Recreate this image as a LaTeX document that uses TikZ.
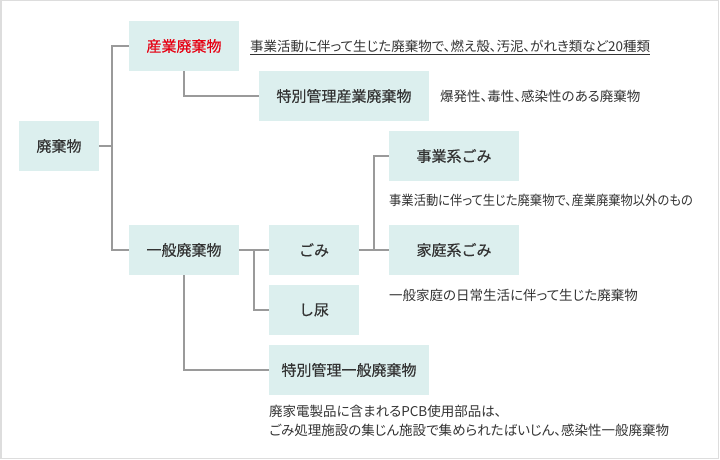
\documentclass[tikz,border=0pt]{standalone}
\usepackage{fontspec}
\setmainfont{Noto Sans CJK JP}
\newfontfamily\boxfont{Noto Sans CJK JP}[FakeBold=0.4]
\newfontfamily\notefont{Noto Sans CJK JP}[RawFeature=+palt]
\definecolor{boxfill}{HTML}{DCEFEE}
\definecolor{linegray}{HTML}{9A9A9A}
\definecolor{textgray}{HTML}{333333}
\definecolor{framegray}{HTML}{DDDDDD}
\definecolor{wastered}{HTML}{E60012}
\tikzset{
  box/.style={fill=boxfill, text=textgray, minimum height=50pt, inner sep=0pt,
    font=\boxfont\fontsize{15}{18}\selectfont},
  note/.style={anchor=west, inner sep=0pt, text=textgray, align=left,
    font=\notefont\fontsize{13.5}{18.5}\selectfont},
  link/.style={draw=linegray, line width=2pt},
}

\begin{document}
\begin{tikzpicture}[x=1pt,y=-1pt]
    \useasboundingbox (0,0) rectangle (720,460);
    \draw[framegray, line width=1.5pt] (0.75,0.75) rectangle (718.5,458.5);
    \node[box, minimum width=80pt] (waste) at (59,146) {廃棄物};
    \node[box, minimum width=110pt, text=wastered] (ind) at (184,46) {産業廃棄物};
    \node[box, minimum width=170pt] (sind) at (344,96) {特別管理産業廃棄物};
    \node[box, minimum width=110pt] (gen) at (184,250) {一般廃棄物};
    \node[box, minimum width=90pt] (gomi) at (314,250) {ごみ};
    \node[box, minimum width=130pt] (jigyo) at (454,156) {事業系ごみ};
    \node[box, minimum width=130pt] (katei) at (454,250) {家庭系ごみ};
    \node[box, minimum width=90pt] (shinyo) at (314,310) {し尿};
    \node[box, minimum width=160pt] (sgen) at (349,370) {特別管理一般廃棄物};
    \coordinate (trunk) at (112,146);
    \coordinate (split) at (254,250);
    \coordinate (fork) at (374,250);
    \draw[link] (waste.east) -- (trunk);
    \draw[link] (ind.west) -| (trunk) |- (gen.west);
    \draw[link] (ind.south) |- (sind.west);
    \draw[link] (gen.east) -- (gomi.west);
    \draw[link] (split) |- (shinyo.west);
    \draw[link] (gen.south) |- (sgen.west);
    \draw[link] (gomi.east) -- (katei.west);
    \draw[link] (fork) |- (jigyo.west);
    \node[note] (indnote) at (250,46) {事業活動に伴って生じた廃棄物で、燃え殻、汚泥、がれき類など20種類};
    \draw[textgray, line width=0.8pt] ([yshift=-2pt]indnote.south west) -- ([yshift=-2pt]indnote.south east);
    \node[note] (sindnote) at (440,96) {爆発性、毒性、感染性のある廃棄物};
    \node[note] (jigyonote) at (389,200) {\scalebox{0.91}[1]{事業活動に伴って生じた廃棄物で、産業廃棄物以外のもの}};
    \node[note] (kateinote) at (389,295) {一般家庭の日常生活に伴って生じた廃棄物};
    \node[note] (sgennote) at (269,421) {廃家電製品に含まれるPCB使用部品は、\\ごみ処理施設の集じん施設で集められたばいじん、感染性一般廃棄物};
\end{tikzpicture}
\end{document}
